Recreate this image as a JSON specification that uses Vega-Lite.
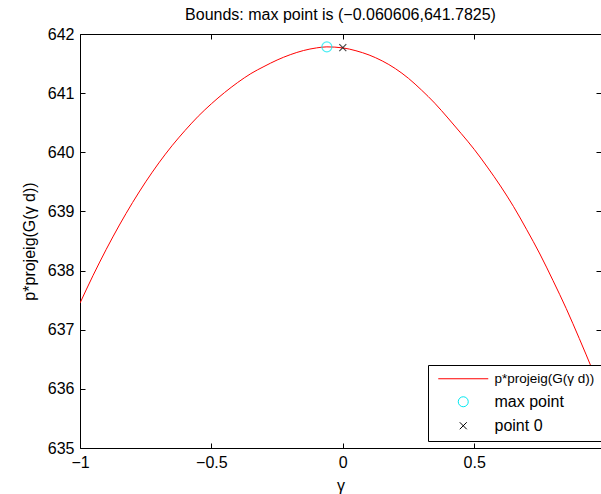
{
  "$schema": "https://vega.github.io/schema/vega-lite/v6.json",
  "width": 521,
  "height": 414,
  "autosize": {"type": "none"},
  "padding": {"left": 80, "top": 34, "right": 0, "bottom": 46},
  "title": {"text": "Bounds: max point is (−0.060606,641.7825)", "fontSize": 16, "fontWeight": "normal", "font": "Liberation Sans", "offset": 3, "anchor": "middle", "color": "black"},
  "datasets": {
    "curve": [
      {"gamma": -1.0, "p": 637.45, "series": "p*projeig(G(γ d))"},
      {"gamma": -0.95, "p": 637.92, "series": "p*projeig(G(γ d))"},
      {"gamma": -0.9, "p": 638.36, "series": "p*projeig(G(γ d))"},
      {"gamma": -0.85, "p": 638.77, "series": "p*projeig(G(γ d))"},
      {"gamma": -0.8, "p": 639.15, "series": "p*projeig(G(γ d))"},
      {"gamma": -0.75, "p": 639.5, "series": "p*projeig(G(γ d))"},
      {"gamma": -0.7, "p": 639.82, "series": "p*projeig(G(γ d))"},
      {"gamma": -0.65, "p": 640.11, "series": "p*projeig(G(γ d))"},
      {"gamma": -0.6, "p": 640.37, "series": "p*projeig(G(γ d))"},
      {"gamma": -0.55, "p": 640.61, "series": "p*projeig(G(γ d))"},
      {"gamma": -0.5, "p": 640.82, "series": "p*projeig(G(γ d))"},
      {"gamma": -0.45, "p": 641.01, "series": "p*projeig(G(γ d))"},
      {"gamma": -0.4, "p": 641.18, "series": "p*projeig(G(γ d))"},
      {"gamma": -0.35, "p": 641.33, "series": "p*projeig(G(γ d))"},
      {"gamma": -0.3, "p": 641.45, "series": "p*projeig(G(γ d))"},
      {"gamma": -0.25, "p": 641.56, "series": "p*projeig(G(γ d))"},
      {"gamma": -0.2, "p": 641.65, "series": "p*projeig(G(γ d))"},
      {"gamma": -0.15, "p": 641.72, "series": "p*projeig(G(γ d))"},
      {"gamma": -0.1, "p": 641.765, "series": "p*projeig(G(γ d))"},
      {"gamma": -0.0606, "p": 641.7825, "series": "p*projeig(G(γ d))"},
      {"gamma": 0.0, "p": 641.765, "series": "p*projeig(G(γ d))"},
      {"gamma": 0.05, "p": 641.717, "series": "p*projeig(G(γ d))"},
      {"gamma": 0.1, "p": 641.645, "series": "p*projeig(G(γ d))"},
      {"gamma": 0.15, "p": 641.545, "series": "p*projeig(G(γ d))"},
      {"gamma": 0.2, "p": 641.415, "series": "p*projeig(G(γ d))"},
      {"gamma": 0.25, "p": 641.25, "series": "p*projeig(G(γ d))"},
      {"gamma": 0.3, "p": 641.05, "series": "p*projeig(G(γ d))"},
      {"gamma": 0.35, "p": 640.83, "series": "p*projeig(G(γ d))"},
      {"gamma": 0.4, "p": 640.58, "series": "p*projeig(G(γ d))"},
      {"gamma": 0.45, "p": 640.32, "series": "p*projeig(G(γ d))"},
      {"gamma": 0.5, "p": 640.05, "series": "p*projeig(G(γ d))"},
      {"gamma": 0.55, "p": 639.75, "series": "p*projeig(G(γ d))"},
      {"gamma": 0.6, "p": 639.43, "series": "p*projeig(G(γ d))"},
      {"gamma": 0.65, "p": 639.08, "series": "p*projeig(G(γ d))"},
      {"gamma": 0.7, "p": 638.69, "series": "p*projeig(G(γ d))"},
      {"gamma": 0.75, "p": 638.28, "series": "p*projeig(G(γ d))"},
      {"gamma": 0.8, "p": 637.83, "series": "p*projeig(G(γ d))"},
      {"gamma": 0.85, "p": 637.36, "series": "p*projeig(G(γ d))"},
      {"gamma": 0.9, "p": 636.85, "series": "p*projeig(G(γ d))"},
      {"gamma": 0.95, "p": 636.32, "series": "p*projeig(G(γ d))"},
      {"gamma": 0.9825, "p": 635.96, "series": "p*projeig(G(γ d))"}
    ],
    "maxpt": [
      {"gamma": -0.060606, "p": 641.7825, "series": "max point"}
    ],
    "pt0": [
      {"gamma": 0.0, "p": 641.77, "series": "point 0"}
    ]
  },
  "layer": [
    {
      "data": {"name": "curve"},
      "mark": {"type": "line", "strokeWidth": 1, "interpolate": "monotone", "clip": true},
      "encoding": {
        "x": {"field": "gamma", "type": "quantitative",
          "scale": {"domain": [-1, 0.9825], "nice": false, "zero": false},
          "axis": {"orient": "bottom", "values": [-1, -0.5, 0, 0.5], "format": "~g", "title": "γ", "tickSize": -5, "labelPadding": 11, "titlePadding": 7}},
        "y": {"field": "p", "type": "quantitative",
          "scale": {"domain": [635, 642], "nice": false, "zero": false},
          "axis": {"orient": "left", "values": [635, 636, 637, 638, 639, 640, 641, 642], "format": "d", "title": "p*projeig(G(γ d))", "tickSize": -5, "labelPadding": 11, "titlePadding": 10}},
        "color": {"field": "series", "type": "nominal",
          "scale": {"domain": ["p*projeig(G(γ d))", "max point", "point 0"], "range": ["#ff0000", "#00e8f0", "#000000"]},
          "legend": {"orient": "none", "legendX": 348, "legendY": 331, "title": null, "strokeColor": "black", "fillColor": "white", "padding": 7, "rowPadding": 7, "labelFontSize": 16, "symbolSize": 100, "symbolStrokeWidth": 1, "symbolOffset": 21.5, "labelOffset": 24.5,
            "encode": {"labels": {"update": {"fontSize": {"signal": "datum.value === 'max point' || datum.value === 'point 0' ? 16 : 13.5"}}}}}}
      }
    },
    {
      "data": {"name": "maxpt"},
      "mark": {"type": "point", "filled": false, "strokeWidth": 1.2, "size": 100},
      "encoding": {
        "x": {"field": "gamma", "type": "quantitative", "axis": {"orient": "top", "values": [-1, -0.5, 0, 0.5], "labels": false, "title": null, "tickSize": -5}},
        "y": {"field": "p", "type": "quantitative", "axis": {"orient": "right", "values": [635, 636, 637, 638, 639, 640, 641, 642], "labels": false, "title": null, "tickSize": -5}},
        "color": {"field": "series", "type": "nominal"},
        "shape": {"field": "series", "type": "nominal",
          "scale": {"domain": ["p*projeig(G(γ d))", "max point", "point 0"], "range": ["M-5,0L5,0", "circle", "M-0.7,-0.7L0.7,0.7M0.7,-0.7L-0.7,0.7"]}}
      }
    },
    {
      "data": {"name": "pt0"},
      "mark": {"type": "point", "filled": false, "strokeWidth": 1.2, "size": 100},
      "encoding": {
        "x": {"field": "gamma", "type": "quantitative", "axis": null},
        "y": {"field": "p", "type": "quantitative", "axis": null},
        "color": {"field": "series", "type": "nominal"},
        "shape": {"field": "series", "type": "nominal"}
      }
    }
  ],
  "resolve": {"axis": {"x": "independent", "y": "independent"}},
  "config": {
    "font": "Liberation Sans",
    "view": {"stroke": null},
    "axis": {"grid": false, "domainColor": "black", "domainWidth": 1, "tickColor": "black", "tickWidth": 1, "labelColor": "black", "labelFontSize": 16, "titleFontSize": 16, "titleFontWeight": "normal", "titleColor": "black", "labelFlush": false, "labelOverlap": false},
    "legend": {"labelColor": "black", "labelFont": "Liberation Sans"}
  }
}
